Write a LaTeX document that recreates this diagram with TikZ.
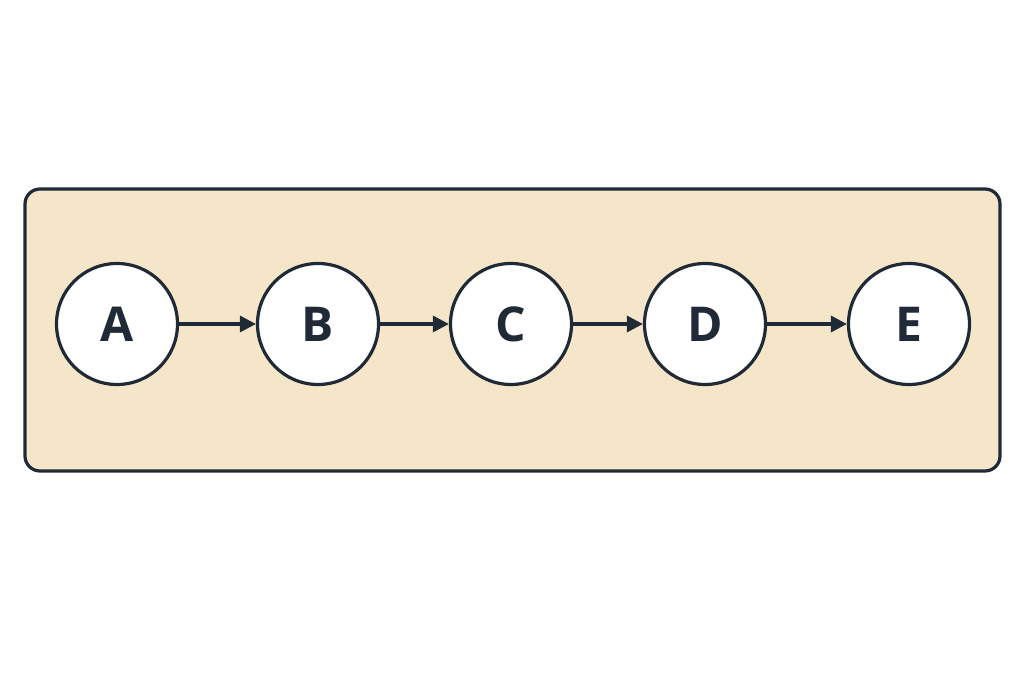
\documentclass[tikz,border=0pt]{standalone}
\usepackage{fontspec}
\setmainfont{Open Sans}
\usetikzlibrary{arrows.meta}
\definecolor{ink}{HTML}{1F2A36}
\definecolor{sand}{HTML}{F5E6C9}
\begin{document}
\begin{tikzpicture}[x=1pt,y=1pt,
  st/.style={circle,draw=ink,line width=3.2pt,fill=white,minimum size=121pt,inner sep=0pt,font=\fontsize{48}{48}\selectfont\bfseries,text=ink},
  ar/.style={draw=ink,line width=3.2pt,-{Triangle[length=16pt,width=16pt]}}]
\useasboundingbox (0,0) rectangle (1024,683);
\draw[ink,fill=sand,line width=3.2pt,rounded corners=15pt] (25,212) rectangle (1000,494);
\node[st] (A) at (117,359) {A};
\node[st] (B) at (318,359) {B};
\node[st] (C) at (511,359) {C};
\node[st] (D) at (705,359) {D};
\node[st] (E) at (909,359) {E};
\draw[ar] (A) -- (B);
\draw[ar] (B) -- (C);
\draw[ar] (C) -- (D);
\draw[ar] (D) -- (E);
\end{tikzpicture}
\end{document}
